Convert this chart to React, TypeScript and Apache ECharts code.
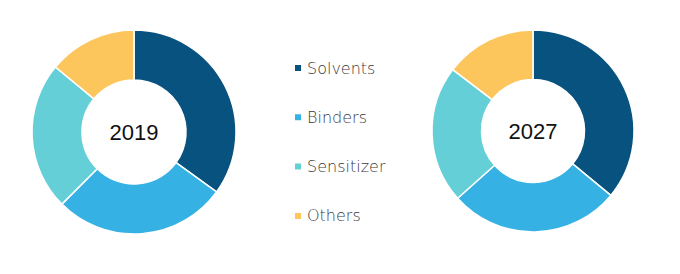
import React, { useEffect, useRef } from "react";
import * as echarts from "echarts";

const categories = ["Solvents", "Binders", "Sensitizer", "Others"];
const values2019 = [35, 27.5, 23.5, 14];
const values2027 = [36, 27.4, 22, 14.6];
const years = ["2019", "2027"];
const colors = ["#08527f", "#35b2e3", "#65cfd8", "#fdc65c"];

export default function App() {
  const ref = useRef<HTMLDivElement>(null);
  useEffect(() => {
    if (!ref.current) return;
    const chart = echarts.init(ref.current, undefined, { renderer: "svg" });
    const mk = (vals: number[], name: string, cx: number, cy: number, r: number) => ({
      type: "pie",
      name,
      center: [cx, cy],
      radius: [r * 0.51, r],
      startAngle: 90,
      clockwise: true,
      label: {
        show: true,
        position: "center",
        formatter: () => name,
        fontSize: 22,
        color: "#111",
        fontFamily: "Liberation Sans",
      },
      labelLine: { show: false },
      emphasis: { disabled: true },
      itemStyle: { borderColor: "#fff", borderWidth: 1.5 },
      data: categories.map((c, i) => ({ name: c, value: vals[i] })),
    });
    chart.setOption({
      animation: false,
      color: colors,
      legend: {
        orient: "vertical",
        left: 288,
        top: 55,
        itemWidth: 8,
        itemHeight: 8,
        itemGap: 33.3,
        icon: "rect",
        data: categories,
        selectedMode: false,
        textStyle: {
          fontFamily: "DejaVu Sans",
          fontSize: 16,
          fontWeight: 300,
          lineHeight: 16,
          color: "#3a3a3a",
        },
      },
      series: [
        mk(values2019, years[0], 134, 132, 102),
        mk(values2027, years[1], 533, 131, 101),
      ],
    });
    return () => chart.dispose();
  }, []);
  return <div ref={ref} style={{ width: 680, height: 274, margin: -8 }} />;
}
